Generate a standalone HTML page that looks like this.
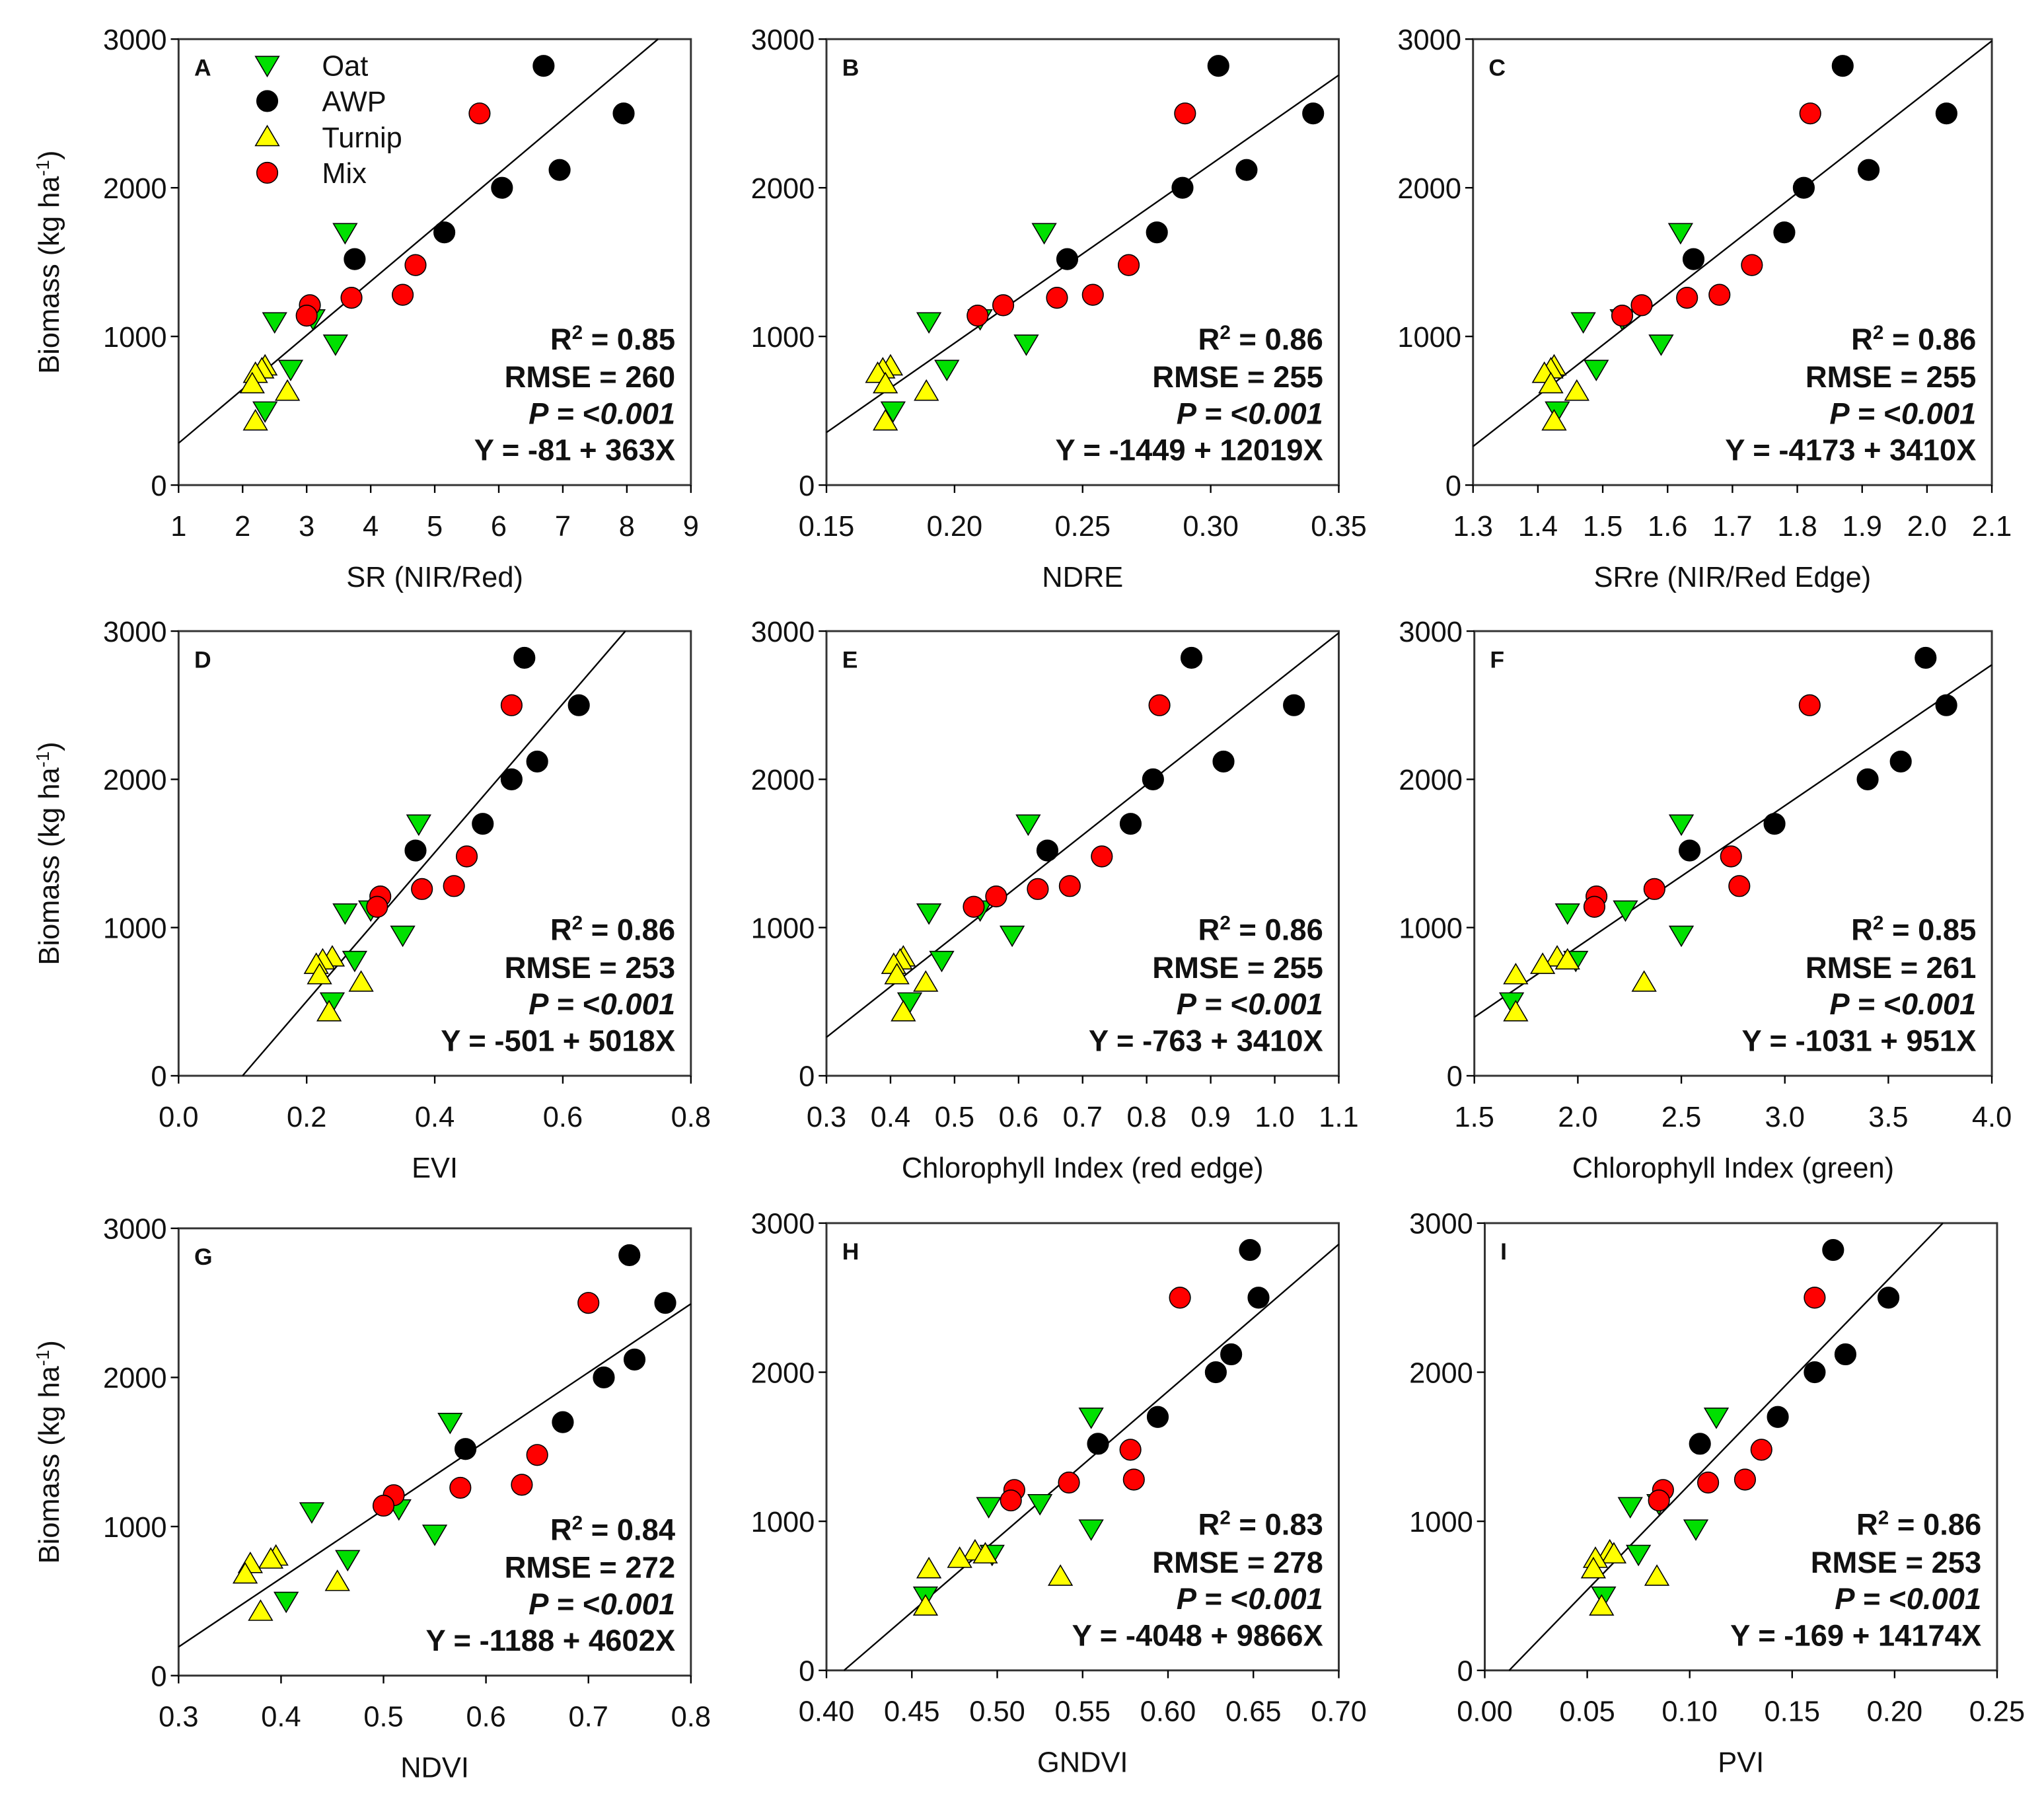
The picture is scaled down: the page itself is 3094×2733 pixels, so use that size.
<!DOCTYPE html>
<html><head><meta charset="utf-8">
<style>
html,body{margin:0;padding:0;background:#fff;}
svg{display:block;font-family:"Liberation Sans",Arial,sans-serif;}
</style></head>
<body>
<svg id="fig" width="3094" height="2733" viewBox="0 0 1568 1385" preserveAspectRatio="none" xmlns="http://www.w3.org/2000/svg"></svg>
<script>
// Shared biomass values (kg/ha) per species
const biomassOat=[1700,1100,1120,950,780,500];
const biomassAWP=[2820,2500,2120,2000,1700,1520];
const biomassTurnip=[800,780,750,680,630,430];
const biomassMix=[2500,1480,1280,1260,1210,1140];
const yTicks=[0,1000,2000,3000];

// Panel A: SR
const aOat=[3.6,2.5,3.1,3.45,2.75,2.35];
const aAWP=[6.7,7.95,6.95,6.05,5.15,3.75];
const aTurnip=[2.35,2.3,2.2,2.15,2.7,2.2];
const aMix=[5.7,4.7,4.5,3.7,3.05,3.0];
const aTicks=["1","2","3","4","5","6","7","8","9"];
// Panel B: NDRE
const bOat=[0.235,0.19,0.21,0.228,0.197,0.176];
const bAWP=[0.303,0.34,0.314,0.289,0.279,0.244];
const bTurnip=[0.175,0.172,0.17,0.173,0.189,0.173];
const bMix=[0.29,0.268,0.254,0.24,0.219,0.209];
const bTicks=["0.15","0.20","0.25","0.30","0.35"];
// Panel C: SRre
const cOat=[1.62,1.47,1.53,1.59,1.49,1.43];
const cAWP=[1.87,2.03,1.91,1.81,1.78,1.64];
const cTurnip=[1.425,1.42,1.41,1.42,1.46,1.425];
const cMix=[1.82,1.73,1.68,1.63,1.56,1.53];
const cTicks=["1.3","1.4","1.5","1.6","1.7","1.8","1.9","2.0","2.1"];
// Panel D: EVI
const dOat=[0.375,0.26,0.3,0.35,0.275,0.24];
const dAWP=[0.54,0.625,0.56,0.52,0.475,0.37];
const dTurnip=[0.24,0.225,0.215,0.22,0.285,0.235];
const dMix=[0.52,0.45,0.43,0.38,0.315,0.31];
const dTicks=["0.0","0.2","0.4","0.6","0.8"];
// Panel E: CI red edge
const eOat=[0.615,0.46,0.54,0.59,0.48,0.43];
const eAWP=[0.87,1.03,0.92,0.81,0.775,0.645];
const eTurnip=[0.42,0.415,0.405,0.41,0.455,0.42];
const eMix=[0.82,0.73,0.68,0.63,0.565,0.53];
const eTicks=["0.3","0.4","0.5","0.6","0.7","0.8","0.9","1.0","1.1"];
// Panel F: CI green
const fOat=[2.5,1.95,2.23,2.5,1.99,1.68];
const fAWP=[3.68,3.78,3.56,3.4,2.95,2.54];
const fTurnip=[1.9,1.95,1.83,1.7,2.32,1.7];
const fMix=[3.12,2.74,2.78,2.37,2.09,2.08];
const fTicks=["1.5","2.0","2.5","3.0","3.5","4.0"];
// Panel G: NDVI
const gOat=[0.565,0.43,0.515,0.55,0.465,0.405];
const gAWP=[0.74,0.775,0.745,0.715,0.675,0.58];
const gTurnip=[0.395,0.39,0.37,0.365,0.455,0.38];
const gMix=[0.7,0.65,0.635,0.575,0.51,0.5];
const gTicks=["0.3","0.4","0.5","0.6","0.7","0.8"];
// Panel H: GNDVI
const hOat=[0.555,0.495,0.525,0.555,0.497,0.458];
const hAWP=[0.648,0.653,0.637,0.628,0.594,0.559];
const hTurnip=[0.487,0.493,0.478,0.46,0.537,0.458];
const hMix=[0.607,0.578,0.58,0.542,0.51,0.508];
const hTicks=["0.40","0.45","0.50","0.55","0.60","0.65","0.70"];
// Panel I: PVI
const iOat=[0.113,0.071,0.085,0.103,0.075,0.058];
const iAWP=[0.170,0.197,0.176,0.161,0.143,0.105];
const iTurnip=[0.061,0.063,0.054,0.053,0.084,0.057];
const iMix=[0.161,0.135,0.127,0.109,0.087,0.085];
const iTicks=["0.00","0.05","0.10","0.15","0.20","0.25"];

// Regression coefficients [intercept, slope]
const fitA=[-81,363], fitB=[-1449,12019], fitC=[-4173,3410], fitD=[-501,5018], fitE=[-763,3410], fitF=[-1031,951], fitG=[-1188,4602], fitH=[-4048,9866], fitI=[-169,14174];
const statsR2=["0.85","0.86","0.86","0.86","0.86","0.85","0.84","0.83","0.86"];
const statsRMSE=["260","255","255","253","255","261","272","278","253"];
const statsEq=["Y = -81 + 363X","Y = -1449 + 12019X","Y = -4173 + 3410X","Y = -501 + 5018X","Y = -763 + 3410X","Y = -1031 + 951X","Y = -1188 + 4602X","Y = -4048 + 9866X","Y = -169 + 14174X"];

const NS="http://www.w3.org/2000/svg";
const svg=document.getElementById('fig');
function mk(tag,attrs,parent,text){const e=document.createElementNS(NS,tag);for(const k in attrs)e.setAttribute(k,attrs[k]);if(text!==undefined)e.textContent=text;(parent||svg).appendChild(e);return e;}

const panels=[
 {id:'a',L:'A',x0:137,x1:530,top:30,bot:372,min:1,max:9,ticks:aTicks,title:'SR (NIR/Red)',s:[aOat,aAWP,aTurnip,aMix],fit:fitA,ylab:true},
 {id:'b',L:'B',x0:634,x1:1027,top:30,bot:372,min:0.15,max:0.35,ticks:bTicks,title:'NDRE',s:[bOat,bAWP,bTurnip,bMix],fit:fitB},
 {id:'c',L:'C',x0:1130,x1:1528,top:30,bot:372,min:1.3,max:2.1,ticks:cTicks,title:'SRre (NIR/Red Edge)',s:[cOat,cAWP,cTurnip,cMix],fit:fitC},
 {id:'d',L:'D',x0:137,x1:530,top:484,bot:825,min:0,max:0.8,ticks:dTicks,title:'EVI',s:[dOat,dAWP,dTurnip,dMix],fit:fitD,ylab:true},
 {id:'e',L:'E',x0:634,x1:1027,top:484,bot:825,min:0.3,max:1.1,ticks:eTicks,title:'Chlorophyll Index (red edge)',s:[eOat,eAWP,eTurnip,eMix],fit:fitE},
 {id:'f',L:'F',x0:1131,x1:1528,top:484,bot:825,min:1.5,max:4.0,ticks:fTicks,title:'Chlorophyll Index (green)',s:[fOat,fAWP,fTurnip,fMix],fit:fitF},
 {id:'g',L:'G',x0:137,x1:530,top:942,bot:1285,min:0.3,max:0.8,ticks:gTicks,title:'NDVI',s:[gOat,gAWP,gTurnip,gMix],fit:fitG,ylab:true},
 {id:'h',L:'H',x0:634,x1:1027,top:938,bot:1281,min:0.40,max:0.70,ticks:hTicks,title:'GNDVI',s:[hOat,hAWP,hTurnip,hMix],fit:fitH},
 {id:'i',L:'I',x0:1139,x1:1532,top:938,bot:1281,min:0,max:0.25,ticks:iTicks,title:'PVI',s:[iOat,iAWP,iTurnip,iMix],fit:fitI}
];
const ys=[biomassOat,biomassAWP,biomassTurnip,biomassMix];
const names=['oat','awp','turnip','mix'];
const fills=['#00e000','#000000','#ffff00','#ff0000'];

function marker(g,k,cx,cy,nm){
  let e;
  if(k===0){const s=9;e=mk('polygon',{points:`${cx-s},${cy-s*0.75} ${cx+s},${cy-s*0.75} ${cx},${cy+s*0.95}`,fill:fills[k],stroke:'#000','stroke-width':0.8},g);}
  else if(k===2){const s=9;e=mk('polygon',{points:`${cx-s},${cy+s*0.75} ${cx+s},${cy+s*0.75} ${cx},${cy-s*0.95}`,fill:fills[k],stroke:'#000','stroke-width':0.8},g);}
  else e=mk('circle',{cx:cx,cy:cy,r:8,fill:fills[k],stroke:'#000','stroke-width':0.8},g);
  
  
  return e;
}

panels.forEach((p,pi)=>{
  const g=mk('g',{});
  
  
  const X=v=>p.x0+(v-p.min)/(p.max-p.min)*(p.x1-p.x0);
  const Y=v=>p.bot-v/3000*(p.bot-p.top);
  const fr=mk('rect',{x:p.x0,y:p.top,width:p.x1-p.x0,height:p.bot-p.top,fill:'none',stroke:'#333','stroke-width':1.5},g);
  
  
  yTicks.forEach(t=>{
    mk('line',{x1:p.x0-6,x2:p.x0,y1:Y(t),y2:Y(t),stroke:'#000','stroke-width':1.2},g);
    const tl=mk('text',{x:p.x0-9,y:Y(t)+8,'font-size':22,'text-anchor':'end',fill:'#111'},g,String(t));
    
    
  });
  p.ticks.forEach(t=>{
    const xv=X(parseFloat(t));
    mk('line',{x1:xv,x2:xv,y1:p.bot,y2:p.bot+6,stroke:'#000','stroke-width':1.2},g);
    const tl=mk('text',{x:xv,y:p.bot+39,'font-size':22,'text-anchor':'middle',fill:'#111'},g,t);
    
    
  });
  const xt=mk('text',{x:(p.x0+p.x1)/2,y:p.bot+78,'font-size':22,'text-anchor':'middle',fill:'#111'},g,p.title);
  
  
  if(p.ylab){
    const cy=(p.top+p.bot)/2, cx=45;
    const yt=mk('text',{x:cx,y:cy,'font-size':22,'text-anchor':'middle',fill:'#111',transform:`rotate(-90 ${cx} ${cy})`},g);
    
    
    mk('tspan',{},yt,'Biomass (kg ha');
    mk('tspan',{'baseline-shift':'super','font-size':14},yt,'-1');
    mk('tspan',{},yt,')');
  }
  const lt=mk('text',{x:p.x0+12,y:p.top+28,'font-size':18,'font-weight':'bold',fill:'#111'},g,p.L);
  
  
  const a=p.fit[0],b=p.fit[1];
  let xa=p.min,xb=p.max;
  const xy0=(0-a)/b, xy3=(3000-a)/b;
  xa=Math.max(xa,Math.min(xy0,xy3)); xb=Math.min(xb,Math.max(xy0,xy3));
  const rl=mk('line',{x1:X(xa),y1:Y(a+b*xa),x2:X(xb),y2:Y(a+b*xb),stroke:'#000','stroke-width':1.2},g);
  
  
  p.s.forEach((xs,k)=>{
    xs.forEach((xv,j)=>marker(g,k,X(xv),Y(ys[k][j]),'point-'+names[k]));
  });
  const sx=p.x1-12, sb=p.bot;
  const st=mk('g',{'font-size':23,'font-weight':'bold','text-anchor':'end',fill:'#111'},g);
  
  
  const r2=mk('text',{x:sx,y:sb-104},st);
  mk('tspan',{},r2,'R');mk('tspan',{'baseline-shift':'super','font-size':15},r2,'2');mk('tspan',{},r2,' = '+statsR2[pi]);
  mk('text',{x:sx,y:sb-75},st,'RMSE = '+statsRMSE[pi]);
  const pt=mk('text',{x:sx,y:sb-47,'font-style':'italic'},st);
  mk('tspan',{},pt,'P');mk('tspan',{'font-style':'normal'},pt,' = <');mk('tspan',{},pt,'0.001');
  mk('text',{x:sx,y:sb-19},st,statsEq[pi]);
});
const lg=mk('g',{});


const legLabels=['Oat','AWP','Turnip','Mix'];
legLabels.forEach((l,k)=>{
  const y=50+k*27.5;
  marker(lg,k,205,y,'legend-marker-'+names[k]);
  const t=mk('text',{x:247,y:y+8,'font-size':22,fill:'#111'},lg,l);
  
  
});
</script>
</body></html>
